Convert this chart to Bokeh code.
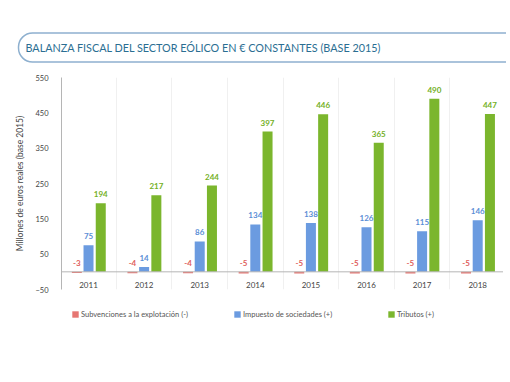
from bokeh.plotting import figure
from bokeh.layouts import column
from bokeh.models import (ColumnDataSource, FixedTicker, Label, Legend, LegendItem,
                          Range1d, Span)
from bokeh.transform import dodge
from bokeh.core.properties import value
from bokeh.embed import file_html
from bokeh.resources import INLINE

# ---- data ----
years = ["2011", "2012", "2013", "2014", "2015", "2016", "2017", "2018"]
subvenciones = [-3, -4, -4, -5, -5, -5, -5, -5]
impuesto = [75, 14, 86, 134, 138, 126, 115, 146]
tributos = [194, 217, 244, 397, 446, 365, 490, 447]
y_ticks = [-50, 50, 150, 250, 350, 450, 550]
series_names = ["Subvenciones a la explotación (-)", "Impuesto de sociedades (+)", "Tributos (+)"]
title_text = "BALANZA FISCAL DEL SECTOR EÓLICO EN € CONSTANTES (BASE 2015)"
y_label = "Millones de euros reales (base 2015)"

RED = "#e67672"
BLUE = "#6b9be0"
GREEN = "#7bb62d"
RED_T = "#e0605c"
BLUE_T = "#5b8ed6"
GREEN_T = "#74b025"
FONT = "Lato"

idx = list(range(len(years)))
src = ColumnDataSource(dict(
    x=idx,
    sub=subvenciones, imp=impuesto, trib=tributos,
    sub_top=[max(v, 0) for v in subvenciones],
    sub_lbl=[str(v) for v in subvenciones],
    imp_lbl=[str(v) for v in impuesto],
    trib_lbl=[str(v) for v in tributos],
))

# ---- title strip ----
pt = figure(width=506, height=70, output_backend="svg", toolbar_location=None,
            x_range=Range1d(0, 1), y_range=Range1d(0, 1),
            x_axis_type=None, y_axis_type=None, min_border=0, frame_align=False)
pt.outline_line_color = None
pt.xgrid.visible = False
pt.ygrid.visible = False
title = Label(x=18, y=23, x_units="screen", y_units="screen", text=title_text,
              text_font=FONT, text_font_size="10.8px", text_color="#2a6e92",
              text_align="left", text_baseline="middle",
              border_line_color="#8eb0cf", border_line_width=1.5,
              background_fill_color="white",
              padding=dict(left=7, right=200, top=8, bottom=8), border_radius=14)
pt.add_layout(title)

# ---- main chart ----
p = figure(width=503, height=230, output_backend="svg", toolbar_location=None,
           x_range=Range1d(-0.486, 7.464), y_range=Range1d(-50, 550),
           min_border_left=61, min_border_right=0, min_border_top=7,
           min_border_bottom=11, frame_align=False)
p.outline_line_color = None

W = 0.18
offs = [-0.21, 0.0, 0.22]
bars = [("sub", RED), ("imp", BLUE), ("trib", GREEN)]
for off, (col_name, colr) in zip(offs, bars):
    p.vbar(x=dodge("x", off, range=p.x_range), top=col_name, bottom=0, width=W,
           source=src, fill_color=colr, line_color=None)

for off, ycol, tcol, col in [(offs[0], "sub_top", "sub_lbl", RED_T),
                             (offs[1], "imp", "imp_lbl", BLUE_T),
                             (offs[2], "trib", "trib_lbl", GREEN_T)]:
    p.text(x=dodge("x", off, range=p.x_range), y=ycol, text=tcol, source=src,
           text_align="center", text_baseline="bottom", y_offset=-6,
           text_font=value(FONT), text_font_size="8px", text_font_style="bold",
           text_color=col)

p.add_layout(Span(location=0, dimension="width", line_color="#b5b5b5", line_width=1))

p.xaxis.ticker = FixedTicker(ticks=idx)
p.xaxis.major_label_overrides = {i: y for i, y in zip(idx, years)}
p.xaxis.axis_line_color = None
p.xaxis.major_tick_line_color = None
p.xaxis.minor_tick_line_color = None
p.xaxis.major_tick_out = 0
p.xaxis.major_tick_in = 0
p.xaxis.major_label_standoff = -8
p.xaxis.major_label_text_font = FONT
p.xaxis.major_label_text_font_size = "8px"
p.xaxis.major_label_text_color = "#444444"

p.yaxis.ticker = FixedTicker(ticks=y_ticks)
p.yaxis.axis_line_color = "#b5b5b5"
p.yaxis.major_tick_line_color = None
p.yaxis.minor_tick_line_color = None
p.yaxis.major_tick_out = 0
p.yaxis.major_tick_in = 0
p.yaxis.major_label_standoff = 13
p.yaxis.major_label_text_font = FONT
p.yaxis.major_label_text_font_size = "7.5px"
p.yaxis.major_label_text_color = "#444444"
p.yaxis.axis_label = y_label
p.yaxis.axis_label_standoff = 7
p.yaxis.axis_label_text_font = FONT
p.yaxis.axis_label_text_font_size = "8.5px"
p.yaxis.axis_label_text_font_style = "normal"
p.yaxis.axis_label_text_color = "#444444"

p.ygrid.grid_line_color = None
p.xgrid.ticker = FixedTicker(ticks=[i + 0.5 for i in idx])
p.xgrid.grid_line_color = "#f0f0f0"

# ---- legend strip (its own renderers use the same data, kept outside the view) ----
pl = figure(width=503, height=66, output_backend="svg", toolbar_location=None,
            x_range=Range1d(0, 1), y_range=Range1d(10000, 10001),
            x_axis_type=None, y_axis_type=None, min_border=0, frame_align=False)
pl.outline_line_color = None
pl.xgrid.visible = False
pl.ygrid.visible = False
for name, (col_name, colr), lx in zip(series_names, bars, [71, 233, 387]):
    r = pl.vbar(x="x", top=col_name, bottom=0, width=W, source=src,
                fill_color=colr, line_color=None)
    lg = Legend(items=[LegendItem(label=name, renderers=[r])], location=(lx, 47),
                orientation="horizontal", padding=0, margin=0, spacing=0,
                border_line_color=None, background_fill_alpha=0,
                glyph_width=8, glyph_height=8, label_height=10, label_standoff=2,
                label_text_font=FONT, label_text_font_size="7.5px",
                label_text_color="#555555")
    pl.add_layout(lg)

layout = column(pt, p, pl, spacing=0)
open("out.html", "w").write(file_html(layout, INLINE))
